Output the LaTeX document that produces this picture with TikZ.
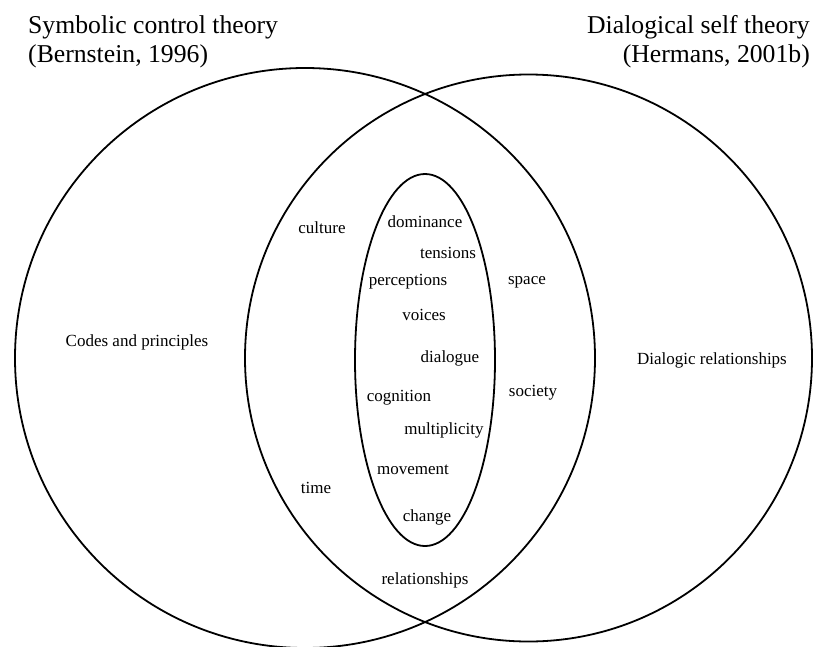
\documentclass[tikz,border=0pt]{standalone}
\usepackage{fontspec}
\setmainfont{Liberation Serif}
\usetikzlibrary{shapes.geometric}
\begin{document}
\begin{tikzpicture}[x=1pt,y=-1pt,
  setline/.style={draw=black, line width=1.8pt, fill=none, inner sep=0pt, outer sep=0pt},
  heading/.style={font=\fontsize{25.7}{29}\selectfont, inner sep=0pt},
  term/.style={font=\fontsize{17}{20}\selectfont, inner sep=0pt}]
\useasboundingbox[fill=white] (0,0) rectangle (814,646);

% the two theory circles and the shared core
\node[setline, circle, minimum size=580pt] (symbolic) at (305,358) {};
\node[setline, circle, minimum size=567pt] (dialogical) at (528.5,358) {};
\node[setline, ellipse, minimum width=140pt, minimum height=372pt] (core) at (425,360) {};

% headings
\node[heading, anchor=base west] (h1a) at (28,33) {Symbolic control theory};
\node[heading, anchor=base west] (h1b) at (28,62) {(Bernstein, 1996)};
\node[heading, anchor=base east] (h2a) at (810,33) {Dialogical self theory};
\node[heading, anchor=base east] (h2b) at (810,62) {(Hermans, 2001b)};

% single-theory terms
\node[term] (codes) at (137,342) {Codes and principles};
\node[term] (dialogic) at (712,360) {Dialogic relationships};

% overlap terms
\node[term] (culture) at (322,228) {culture};
\node[term] (space) at (527,282) {space};
\node[term] (society) at (533,393) {society};
\node[term] (time) at (316,488) {time};
\node[term] (relationships) at (425,580) {relationships};

% core terms
\node[term] (dominance) at (425,222) {dominance};
\node[term] (tensions) at (448,253) {tensions};
\node[term] (perceptions) at (408,282) {perceptions};
\node[term] (voices) at (424,315) {voices};
\node[term] (dialogue) at (450,358) {dialogue};
\node[term] (cognition) at (399,398) {cognition};
\node[term] (multiplicity) at (444,430) {multiplicity};
\node[term] (movement) at (413,470) {movement};
\node[term] (change) at (427,517) {change};
\end{tikzpicture}
\end{document}
